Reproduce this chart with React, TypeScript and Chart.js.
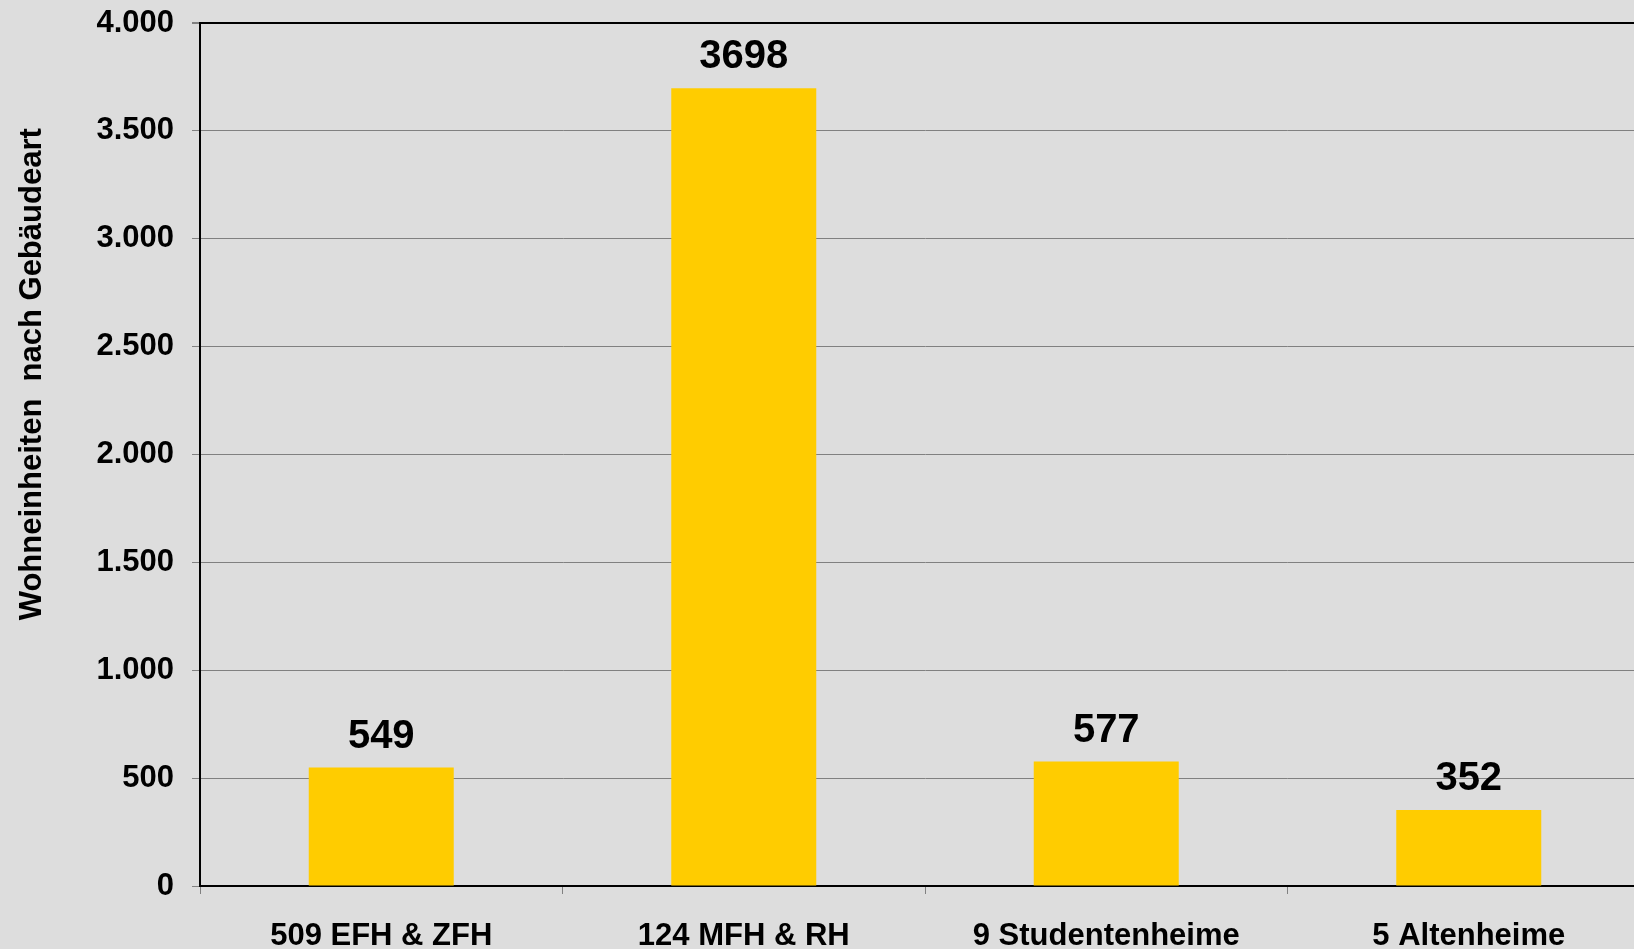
import React, { useEffect, useRef } from "react";
import { Chart, registerables } from "chart.js";

Chart.register(...registerables);

const categories = ["509 EFH & ZFH", "124 MFH & RH", "9 Studentenheime", "5 Altenheime"];
const values = [549, 3698, 577, 352];
const yTicks = [0, 500, 1000, 1500, 2000, 2500, 3000, 3500, 4000];
const yTitle = "Wohneinheiten  nach Gebäudeart";

const FONT = "'Liberation Sans', Arial, sans-serif";

function fmt(v: number): string {
  const s = Math.round(v).toString();
  return s.replace(/\B(?=(\d{3})+(?!\d))/g, ".");
}

export default function App() {
  const ref = useRef<HTMLCanvasElement | null>(null);

  useEffect(() => {
    document.documentElement.style.overflow = "hidden";
    document.body.style.margin = "0";
    document.body.style.overflow = "hidden";
    document.body.style.background = "#DDDDDD";
    const canvas = ref.current!;
    const bgPlugin = {
      id: "bg",
      beforeDraw(chart: any) {
        const c = chart.ctx;
        c.save();
        c.fillStyle = "#DDDDDD";
        c.fillRect(0, 0, chart.width, chart.height);
        c.restore();
      },
    };
    const labelPlugin = {
      id: "labels",
      afterDatasetsDraw(chart: any) {
        const c = chart.ctx;
        const meta = chart.getDatasetMeta(0);
        c.save();
        c.fillStyle = "#000";
        c.font = `bold 40px ${FONT}`;
        c.textAlign = "center";
        c.textBaseline = "middle";
        meta.data.forEach((bar: any, i: number) => {
          c.fillText(String(values[i]), bar.x, bar.y - 31);
        });
        // y-axis title
        const area = chart.chartArea;
        c.font = `bold 31px ${FONT}`;
        c.translate(32, area.top + (area.bottom - area.top) * 0.407);
        c.rotate(-Math.PI / 2);
        c.fillText(yTitle, 0, 0);
        c.restore();
      },
    };
    const chart = new Chart(canvas, {
      type: "bar",
      data: {
        labels: categories,
        datasets: [
          {
            data: values,
            backgroundColor: "#FFCC00",
            borderWidth: 0,
            barPercentage: 0.4,
            categoryPercentage: 1,
          },
        ],
      },
      options: {
        animation: false,
        responsive: false,
        maintainAspectRatio: false,
        layout: { padding: { top: 23, right: 10, left: 0, bottom: 0 } },
        plugins: { legend: { display: false }, tooltip: { enabled: false } },
        scales: {
          x: {
            grid: {
              drawOnChartArea: false,
              drawTicks: true,
              tickLength: 8,
              tickColor: "#808080",
              offset: true,
            },
            border: { color: "#000", width: 2 },
            ticks: {
              color: "#000",
              font: { family: FONT, size: 31, weight: "bold" },
              padding: 24,
              maxRotation: 0,
            },
            afterFit(scale: any) {
              scale.height = 63;
              scale.paddingLeft = 0;
              scale.paddingRight = 0;
            },
          },
          y: {
            min: 0,
            max: 4000,
            afterBuildTicks(scale: any) {
              scale.ticks = yTicks.map((v) => ({ value: v }));
            },
            grid: {
              color: (ctx: any) => (ctx.tick && ctx.tick.value === 4000 ? "#000" : "#808080"),
              lineWidth: (ctx: any) => (ctx.tick && ctx.tick.value === 4000 ? 2 : 1),
              tickColor: "#808080",
              tickLength: 8,
              drawTicks: true,
            },
            border: { color: "#000", width: 2 },
            ticks: {
              color: "#000",
              font: { family: FONT, size: 31, weight: "bold" },
              padding: 18,
              callback: (v: any) => fmt(Number(v)),
            },
            afterFit(scale: any) {
              scale.width = 200;
              scale.paddingTop = 0;
              scale.paddingBottom = 0;
            },
          },
        },
      },
      plugins: [bgPlugin, labelPlugin],
    });
    return () => chart.destroy();
  }, []);

  return (
    <div style={{ width: 1660, height: 949, overflow: "hidden" }}>
      <canvas ref={ref} width={1660} height={949} style={{ display: "block" }} />
    </div>
  );
}
